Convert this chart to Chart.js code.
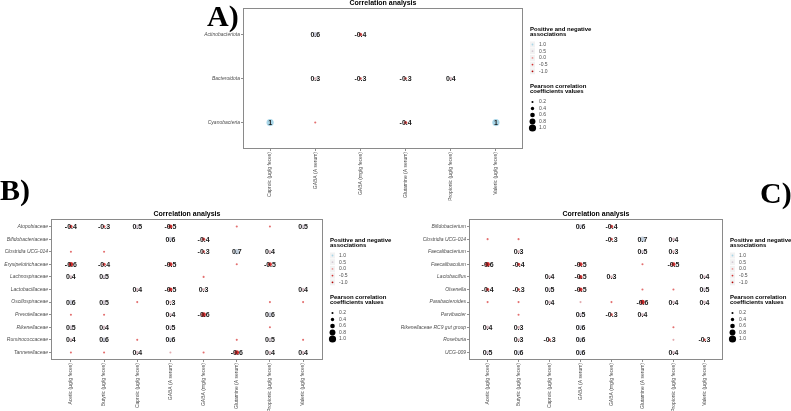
<!DOCTYPE html>
<html>
<head>
<meta charset="utf-8">
<title>Correlation analysis</title>
<script src="https://cdn.jsdelivr.net/npm/chart.js"></script>
<style>
  body { margin: 0; background: #fff; }
  #wrap { position: relative; width: 791px; height: 411px; overflow: hidden; background: #fff; }
  #wrap canvas { position: absolute; left: 0; top: 0; }
  .tag { position: absolute; font: bold 30px "Liberation Serif", serif; line-height: 30px; color: #000; }
</style>
</head>
<body>
<div id="wrap">
  <canvas id="chart-a" width="791" height="411"></canvas>
  <canvas id="chart-b" width="791" height="411"></canvas>
  <canvas id="chart-c" width="791" height="411"></canvas>
  <div class="tag" style="left:207px;top:1px">A)</div>
  <div class="tag" style="left:0px;top:175px">B)</div>
  <div class="tag" style="left:760px;top:178px">C)</div>
</div>

<script>
// ---- data (blank cells = null) ----
var aRows = ['Actinobacteriota', 'Bacteroidota', 'Cyanobacteria'];
var aCols = ['Caproic (µg/g feces)', 'GABA (A serum)', 'GABA (mg/g feces)',
             'Glutamine (A serum)', 'Propionic (µg/g feces)', 'Valeric (µg/g feces)'];
var aValues = [
    [null, 0.6, -0.4, null, null, null],
    [null, 0.3, -0.3, -0.3, 0.4, null],
    [1, -0.2, null, -0.4, null, 1]
];

var acidCols = ['Acetic (µg/g feces)', 'Butyric (µg/g feces)', 'Caproic (µg/g feces)',
                'GABA (A serum)', 'GABA (mg/g feces)', 'Glutamine (A serum)',
                'Propionic (µg/g feces)', 'Valeric (µg/g feces)'];

var bRows = ['Atopobiaceae', 'Bifidobacteriaceae', 'Clostridia UCG-014', 'Erysipelotrichaceae',
             'Lachnospiraceae', 'Lactobacillaceae', 'Oscillospiraceae', 'Prevotellaceae',
             'Rikenellaceae', 'Ruminococcaceae', 'Tannerellaceae'];
var bValues = [
    [-0.4, -0.3, 0.5, -0.5, null, -0.2, -0.2, 0.5],
    [null, null, null, 0.6, -0.4, null, null, null],
    [-0.2, -0.2, null, null, -0.3, 0.7, 0.4, null],
    [-0.6, -0.4, null, -0.5, null, -0.2, -0.5, null],
    [0.4, 0.5, null, null, -0.2, null, null, null],
    [null, null, 0.4, -0.5, 0.3, null, null, 0.4],
    [0.6, 0.5, -0.2, 0.3, null, null, -0.2, -0.2],
    [-0.2, -0.2, null, 0.4, -0.6, null, 0.6, null],
    [0.5, 0.4, null, 0.5, null, null, -0.2, null],
    [0.4, 0.6, -0.2, 0.6, null, -0.2, 0.5, -0.2],
    [-0.2, -0.2, 0.4, 0.2, -0.2, -0.6, 0.4, 0.4]
];

var cRows = ['Bifidobacterium', 'Clostridia UCG-014', 'Faecalibacterium', 'Faecalibaculum',
             'Lactobacillus', 'Olsenella', 'Parabacteroides', 'Parvibacter',
             'Rikenellaceae RC9 gut group', 'Roseburia', 'UCG-009'];
var cValues = [
    [null, null, null, 0.6, -0.4, null, null, null],
    [-0.2, -0.2, null, null, -0.3, 0.7, 0.4, null],
    [null, 0.3, null, null, null, 0.5, 0.3, null],
    [-0.6, -0.4, null, -0.5, null, -0.2, -0.5, null],
    [null, null, 0.4, -0.5, 0.3, null, null, 0.4],
    [-0.4, -0.3, 0.5, -0.5, null, -0.2, -0.2, 0.5],
    [-0.2, -0.2, 0.4, 0.2, -0.2, -0.6, 0.4, 0.4],
    [null, -0.2, null, 0.5, -0.3, 0.4, null, null],
    [0.4, 0.3, null, 0.6, null, null, -0.2, null],
    [null, 0.3, -0.3, 0.6, null, null, 0.2, -0.3],
    [0.5, 0.6, null, 0.6, null, null, 0.4, null]
];

var colorKeys = [1.0, 0.5, 0.0, -0.5, -1.0];
var sizeKeys = [0.2, 0.4, 0.6, 0.8, 1.0];

// ---- helpers ----
var FONT = '"Liberation Sans", Arial, sans-serif';
var W = 791, H = 411;
var Y_AXIS_W = 80, X_AXIS_H = 70;

function colorOf(v) {
    var stops = [[-1, [178, 0, 0]], [-0.5, [214, 52, 52]], [0, [236, 150, 150]],
                 [0.5, [212, 202, 212]], [1, [168, 214, 232]]];
    for (var i = 0; i < stops.length - 1; i++) {
        var a = stops[i], b = stops[i + 1];
        if (v <= b[0]) {
            var t = (v - a[0]) / (b[0] - a[0]);
            var c = a[1].map(function (x, k) { return Math.round(x + (b[1][k] - x) * t); });
            return 'rgb(' + c.join(',') + ')';
        }
    }
    return 'rgb(168,214,232)';
}

function sizeOf(v) {
    return 0.4 + 3.2 * Math.abs(v);
}

function fmt(v) {
    return Math.abs(v) === 1 ? String(v) : v.toFixed(1);
}

function buildChart(id, rows, cols, values, box) {
    var points = [];
    values.forEach(function (row, i) {
        row.forEach(function (v, j) {
            if (v !== null) points.push({ x: j, y: i, r: sizeOf(v), v: v });
        });
    });

    var decor = {
        id: 'decor-' + id,
        beforeDatasetsDraw: function (chart) {
            var ctx = chart.ctx, a = chart.chartArea;
            ctx.save();
            ctx.strokeStyle = '#8a8a8a';
            ctx.lineWidth = 1;
            ctx.strokeRect(a.left + 0.5, a.top + 0.5, a.right - a.left - 1, a.bottom - a.top - 1);
            // title
            ctx.fillStyle = '#000';
            ctx.font = 'bold 7px ' + FONT;
            ctx.textAlign = 'center';
            ctx.textBaseline = 'middle';
            ctx.fillText('Correlation analysis', (a.left + a.right) / 2, a.top - 5);
            // legends
            var lx = a.right + 7, top = a.top;
            ctx.textAlign = 'left';
            ctx.font = 'bold 6px ' + FONT;
            ctx.fillText('Positive and negative', lx, top + 21);
            ctx.fillText('associations', lx, top + 26.5);
            colorKeys.forEach(function (k, i) {
                var y = top + 36.5 + i * 6.7;
                ctx.fillStyle = '#f2f2f2';
                ctx.fillRect(lx, y - 3, 5, 6);
                ctx.fillStyle = colorOf(k);
                ctx.beginPath();
                ctx.arc(lx + 2.5, y, 0.9, 0, Math.PI * 2);
                ctx.fill();
                ctx.fillStyle = '#4d4d4d';
                ctx.font = '5px ' + FONT;
                ctx.fillText(k.toFixed(1), lx + 9, y);
            });
            ctx.fillStyle = '#000';
            ctx.font = 'bold 6px ' + FONT;
            ctx.fillText('Pearson correlation', lx, top + 78);
            ctx.fillText('coefficients values', lx, top + 83.5);
            sizeKeys.forEach(function (k, i) {
                var y = top + 94 + i * 6.5;
                ctx.fillStyle = '#000';
                ctx.beginPath();
                ctx.arc(lx + 2.5, y, sizeOf(k), 0, Math.PI * 2);
                ctx.fill();
                ctx.fillStyle = '#4d4d4d';
                ctx.font = '5px ' + FONT;
                ctx.fillText(k.toFixed(1), lx + 9, y);
            });
            ctx.restore();
        },
        afterDatasetsDraw: function (chart) {
            var ctx = chart.ctx;
            var meta = chart.getDatasetMeta(0);
            ctx.save();
            ctx.font = 'bold 7px ' + FONT;
            ctx.fillStyle = '#1a1a1a';
            ctx.textAlign = 'center';
            ctx.textBaseline = 'middle';
            meta.data.forEach(function (el, i) {
                var v = points[i].v;
                if (Math.abs(v) >= 0.3) ctx.fillText(fmt(v), el.x, el.y + 0.5);
            });
            ctx.restore();
        }
    };

    function axis(labels, isY) {
        return {
            type: 'linear',
            reverse: isY,
            min: -0.6,
            max: labels.length - 0.4,
            afterBuildTicks: function (s) {
                s.ticks = labels.map(function (_, i) { return { value: i }; });
            },
            afterFit: function (s) {
                if (isY) s.width = Y_AXIS_W; else s.height = X_AXIS_H;
            },
            ticks: {
                autoSkip: false,
                minRotation: isY ? 0 : 90,
                maxRotation: isY ? 0 : 90,
                padding: 1,
                color: '#4d4d4d',
                font: { family: FONT, size: 5, style: isY ? 'italic' : 'normal' },
                callback: function (val) { return labels[val]; }
            },
            grid: { drawOnChartArea: false, drawTicks: true, tickLength: 2, color: '#444', lineWidth: 0.6 },
            border: { display: false }
        };
    }

    return new Chart(document.getElementById(id), {
        type: 'bubble',
        data: {
            datasets: [{
                data: points,
                backgroundColor: function (c) { return c.raw ? colorOf(c.raw.v) : '#000'; },
                borderWidth: 0
            }]
        },
        options: {
            responsive: false,
            animation: false,
            events: [],
            layout: {
                padding: {
                    left: box.left - Y_AXIS_W,
                    right: W - box.right,
                    top: box.top,
                    bottom: H - box.bottom - X_AXIS_H
                }
            },
            plugins: { legend: { display: false }, tooltip: { enabled: false } },
            scales: { x: axis(cols, false), y: axis(rows, true) }
        },
        plugins: [decor]
    });
}

buildChart('chart-a', aRows, aCols, aValues, { left: 243, right: 523, top: 8, bottom: 149 });
buildChart('chart-b', bRows, acidCols, bValues, { left: 51, right: 323, top: 219, bottom: 360 });
buildChart('chart-c', cRows, acidCols, cValues, { left: 469, right: 723, top: 219, bottom: 360 });
</script>
</body>
</html>
